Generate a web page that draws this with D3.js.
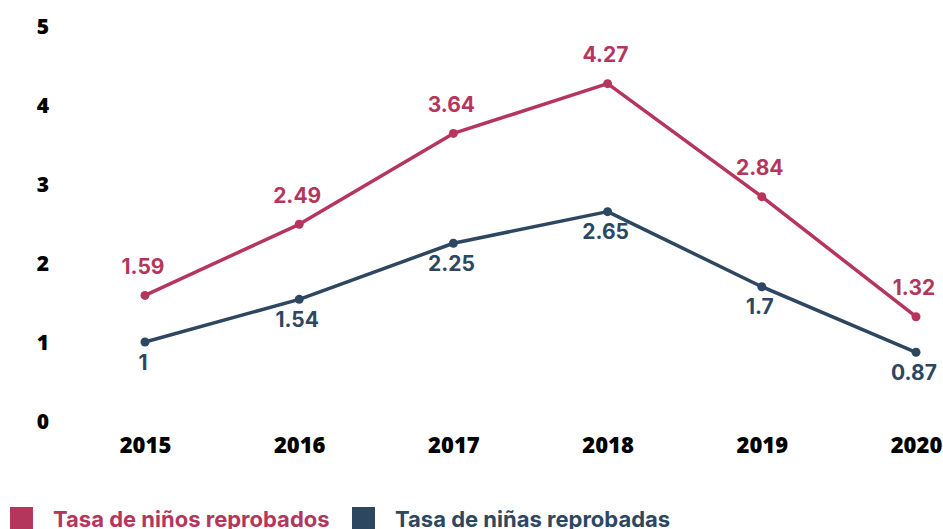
<!DOCTYPE html>
<html>
<head>
<meta charset="utf-8">
<script src="https://cdn.jsdelivr.net/npm/d3@7"></script>
<style>
  body { margin: 0; background: #fff; }
  svg { display: block; }
</style>
</head>
<body>
<svg></svg>
<script>
const years = ['2015', '2016', '2017', '2018', '2019', '2020'];
const ninos = [1.59, 2.49, 3.64, 4.27, 2.84, 1.32];
const ninas = [1, 1.54, 2.25, 2.65, 1.7, 0.87];
const yTicks = [0, 1, 2, 3, 4, 5];
const seriesNames = ['Tasa de niños reprobados', 'Tasa de niñas reprobadas'];

const svg = d3.select('svg')
	.attr('width', 943)
	.attr('height', 529);

const red = '#b5365c',
	navy = '#2e4760';

const xScale = d3.scalePoint()
	.domain(years)
	.range([145, 916]);

const yScale = d3.scaleLinear()
	.domain([0, 5])
	.range([421, 26]);

// y axis labels
const yAxis = d3.axisLeft(yScale)
	.tickValues(yTicks)
	.tickSize(0)
	.tickPadding(0)
	.tickFormat(d3.format('d'));

const yAxisG = svg.append('g')
	.attr('transform', 'translate(49, 0)')
	.call(yAxis);
yAxisG.select('.domain').remove();
yAxisG.selectAll('text')
	.attr('fill', '#000')
	.attr('font-family', 'Open Sans')
	.attr('font-weight', 800)
	.attr('font-size', 21)
	.attr('text-anchor', 'middle')
	.attr('dx', -6)
	.attr('dy', '0.36em');

const xAxis = d3.axisBottom(xScale)
	.tickSize(0)
	.tickPadding(0);

const xAxisG = svg.append('g')
	.attr('transform', 'translate(0, 445)')
	.call(xAxis);
xAxisG.select('.domain').remove();
xAxisG.selectAll('text')
	.attr('fill', '#000')
	.attr('font-family', 'Open Sans')
	.attr('font-weight', 800)
	.attr('font-size', 22)
	.attr('dy', '0.36em');

const series = [
	{ values: ninos, color: red, dy: -29 },
	{ values: ninas, color: navy, dy: 20 }
];

const line = d3.line()
	.x((d, i) => xScale(years[i]))
	.y(d => yScale(d));

series.forEach(s => {
	const g = svg.append('g');
	g.append('path')
		.attr('d', line(s.values))
		.attr('fill', 'none')
		.attr('stroke', s.color)
		.attr('stroke-width', 3.5)
		.attr('stroke-linejoin', 'round');

	g.selectAll('circle')
		.data(s.values)
		.enter()
		.append('circle')
			.attr('cx', (d, i) => xScale(years[i]))
			.attr('cy', d => yScale(d))
			.attr('r', 4.5)
			.attr('fill', s.color);

	g.selectAll('text')
		.data(s.values)
		.enter()
		.append('text')
			.attr('x', (d, i) => xScale(years[i]) - 2)
			.attr('y', d => yScale(d) + s.dy)
			.attr('dy', '0.36em')
			.attr('text-anchor', 'middle')
			.attr('fill', s.color)
			.attr('font-family', 'Inter')
			.attr('font-weight', 700)
			.attr('font-size', 21)
			.text(d => d);
});

// legend (bottom edge is cut by the frame, as in the original)
const legend = svg.append('g');
const legendX = [10, 352];
seriesNames.forEach((name, i) => {
	const c = i === 0 ? red : navy;
	legend.append('rect')
		.attr('x', legendX[i])
		.attr('y', 507)
		.attr('width', 23)
		.attr('height', 22)
		.attr('fill', c);
	legend.append('text')
		.attr('x', legendX[i] + 43)
		.attr('y', 526.5)
		.attr('fill', c)
		.attr('font-family', 'Inter')
		.attr('font-weight', 700)
		.attr('font-size', 22)
		.text(name);
});
</script>
</body>
</html>
